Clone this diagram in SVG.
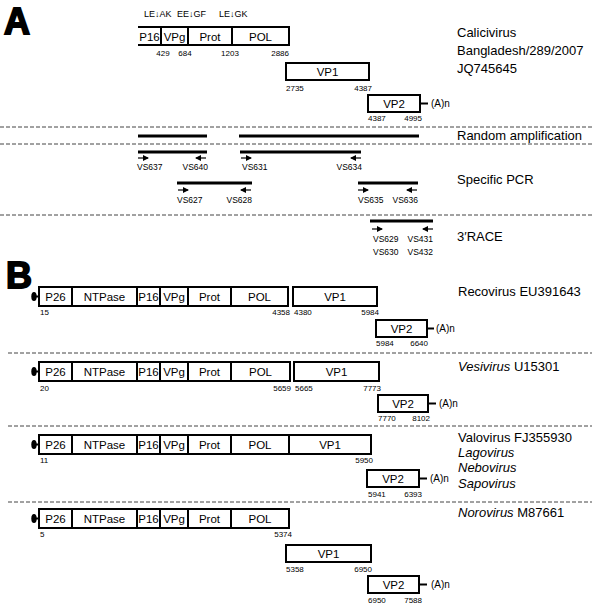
<svg xmlns="http://www.w3.org/2000/svg" width="600" height="613" viewBox="0 0 600 613">
<defs>
<style>
text{font-family:"Liberation Sans",Arial,sans-serif;fill:#000}
.box{fill:#fff;stroke:#000;stroke-width:2}
.dv{stroke:#000;stroke-width:2}
.lbl{font-size:11.5px;text-anchor:middle}
.num{font-size:8px}
.end{text-anchor:end}
.nm{font-size:13px}
.it{font-style:italic}
.an{font-size:10px}
.cl{font-size:9px}
.vs{font-size:8.5px}
.dash{stroke:#444;stroke-width:1;stroke-dasharray:4 2;fill:none}
.bar{stroke:#000;stroke-width:3}
.ar{stroke:#000;stroke-width:1.2;marker-end:url(#ah)}
.tail{stroke:#000;stroke-width:2}
.big{font-size:36px;font-weight:bold;stroke:#000;stroke-width:1.8}
</style>
<marker id="ah" markerWidth="6" markerHeight="6" refX="5" refY="3" orient="auto" markerUnits="userSpaceOnUse">
<path d="M0,0 L6,3 L0,6 Z" fill="#000"/>
</marker>
</defs>
<rect width="600" height="613" fill="#fff"/>

<g id="panel-labels">
<text class="big" x="4" y="34">A</text>
<text class="big" x="6" y="288">B</text>
</g>

<g id="separators">
<line class="dash" x1="0" y1="127" x2="592" y2="127"/>
<line class="dash" x1="0" y1="144" x2="592" y2="144"/>
<line class="dash" x1="0" y1="215" x2="592" y2="215"/>
<line class="dash" x1="8" y1="353" x2="592" y2="353"/>
<line class="dash" x1="8" y1="426" x2="592" y2="426"/>
<line class="dash" x1="8" y1="502" x2="592" y2="502"/>
</g>

<!-- Panel A -->
<g id="a-cleavage">
<text class="cl" x="144" y="17">LE↓AK</text>
<text class="cl" x="177" y="17">EE↓GF</text>
<text class="cl" x="219" y="17">LE↓GK</text>
</g>
<g id="a-orf1">
<path class="box" d="M138,27 H289 V45 H138"/>
<line class="dv" x1="161" y1="27" x2="161" y2="45"/>
<line class="dv" x1="188" y1="27" x2="188" y2="45"/>
<line class="dv" x1="232" y1="27" x2="232" y2="45"/>
<text class="lbl" x="149.5" y="41">P16</text>
<text class="lbl" x="174.5" y="41">VPg</text>
<text class="lbl" x="210" y="41">Prot</text>
<text class="lbl" x="260.5" y="41">POL</text>
<text class="num" x="163" y="56" text-anchor="middle">429</text>
<text class="num" x="185" y="56" text-anchor="middle">684</text>
<text class="num" x="230" y="56" text-anchor="middle">1203</text>
<text class="num end" x="289" y="56">2886</text>
</g>
<g id="a-vp1">
<rect class="box" x="286" y="63" width="83" height="17"/>
<text class="lbl" x="327.5" y="76">VP1</text>
<text class="num" x="286" y="91">2735</text>
<text class="num end" x="372" y="91">4387</text>
</g>
<g id="a-vp2">
<rect class="box" x="368" y="95" width="52" height="17"/>
<text class="lbl" x="394" y="108">VP2</text>
<text class="an" x="431" y="107">(A)n</text>
<text class="num" x="368" y="121">4387</text>
<text class="num end" x="422" y="121">4995</text>
</g>
<g id="a-name">
<text class="nm" x="457" y="37">Calicivirus</text>
<text class="nm" x="457" y="55">Bangladesh/289/2007</text>
<text class="nm" x="457" y="73">JQ745645</text>
</g>
<g id="random-amplification">
<line class="bar" x1="138" y1="136" x2="207" y2="136"/>
<line class="bar" x1="239" y1="136" x2="419" y2="136"/>
<text class="nm" x="457" y="140">Random amplification</text>
</g>
<g id="specific-pcr">
<line class="bar" x1="138" y1="152" x2="207" y2="152"/>
<line class="bar" x1="240" y1="152" x2="361" y2="152"/>
<line class="bar" x1="177" y1="183" x2="252" y2="183"/>
<line class="bar" x1="358" y1="183" x2="418" y2="183"/>
<text class="vs" x="137" y="170">VS637</text>
<text class="vs end" x="208" y="170">VS640</text>
<text class="vs" x="242" y="170">VS631</text>
<text class="vs end" x="362" y="170">VS634</text>
<text class="vs" x="177" y="203">VS627</text>
<text class="vs end" x="252" y="203">VS628</text>
<text class="vs" x="358" y="203">VS635</text>
<text class="vs end" x="418" y="203">VS636</text>
<text class="nm" x="457" y="184">Specific PCR</text>
</g>
<g id="race">
<line class="bar" x1="370" y1="221" x2="433" y2="221"/>
<text class="vs" x="373" y="242">VS629</text>
<text class="vs" x="373" y="255">VS630</text>
<text class="vs end" x="433" y="242">VS431</text>
<text class="vs end" x="433" y="255">VS432</text>
<text class="nm" x="457" y="241">3′RACE</text>
</g>

<!-- Panel B -->
<g id="recovirus">
<rect class="box" x="39" y="287" width="249" height="19"/>
<line class="dv" x1="72" y1="287" x2="72" y2="306"/>
<line class="dv" x1="137" y1="287" x2="137" y2="306"/>
<line class="dv" x1="160" y1="287" x2="160" y2="306"/>
<line class="dv" x1="188" y1="287" x2="188" y2="306"/>
<line class="dv" x1="231" y1="287" x2="231" y2="306"/>
<text class="lbl" x="55.5" y="301">P26</text>
<text class="lbl" x="104.5" y="301">NTPase</text>
<text class="lbl" x="148.5" y="301">P16</text>
<text class="lbl" x="174" y="301">VPg</text>
<text class="lbl" x="209.5" y="301">Prot</text>
<text class="lbl" x="259.5" y="301">POL</text>
<rect class="box" x="293" y="287" width="84" height="19"/>
<text class="lbl" x="335" y="301">VP1</text>
<text class="num" x="40" y="315">15</text>
<text class="num end" x="290" y="315">4358</text>
<text class="num" x="294" y="315">4380</text>
<text class="num end" x="379" y="315">5984</text>
<rect class="box" x="376" y="320" width="51" height="17"/>
<text class="lbl" x="401.5" y="333">VP2</text>
<text class="an" x="436" y="332">(A)n</text>
<text class="num" x="376" y="346">5984</text>
<text class="num end" x="428" y="346">6640</text>
<ellipse cx="34" cy="296.5" rx="2.7" ry="4.5" fill="#000"/>
<text class="nm" x="458" y="296">Recovirus EU391643</text>
</g>

<g id="vesivirus">
<rect class="box" x="39" y="362" width="251" height="19"/>
<line class="dv" x1="72" y1="362" x2="72" y2="381"/>
<line class="dv" x1="137" y1="362" x2="137" y2="381"/>
<line class="dv" x1="160" y1="362" x2="160" y2="381"/>
<line class="dv" x1="188" y1="362" x2="188" y2="381"/>
<line class="dv" x1="231" y1="362" x2="231" y2="381"/>
<text class="lbl" x="55.5" y="376">P26</text>
<text class="lbl" x="104.5" y="376">NTPase</text>
<text class="lbl" x="148.5" y="376">P16</text>
<text class="lbl" x="174" y="376">VPg</text>
<text class="lbl" x="209.5" y="376">Prot</text>
<text class="lbl" x="260.5" y="376">POL</text>
<rect class="box" x="294" y="362" width="85" height="19"/>
<text class="lbl" x="336.5" y="376">VP1</text>
<text class="num" x="40" y="391">20</text>
<text class="num end" x="291" y="391">5659</text>
<text class="num" x="295" y="391">5665</text>
<text class="num end" x="381" y="391">7773</text>
<rect class="box" x="378" y="395" width="50" height="17"/>
<text class="lbl" x="403" y="408">VP2</text>
<text class="an" x="439" y="407">(A)n</text>
<text class="num" x="378" y="421">7770</text>
<text class="num end" x="430" y="421">8102</text>
<ellipse cx="34" cy="371.5" rx="2.7" ry="4.5" fill="#000"/>
<text class="nm" x="458" y="371"><tspan class="it">Vesivirus</tspan> U15301</text>
</g>

<g id="valovirus">
<rect class="box" x="39" y="435" width="332" height="19"/>
<line class="dv" x1="72" y1="435" x2="72" y2="454"/>
<line class="dv" x1="137" y1="435" x2="137" y2="454"/>
<line class="dv" x1="160" y1="435" x2="160" y2="454"/>
<line class="dv" x1="188" y1="435" x2="188" y2="454"/>
<line class="dv" x1="231" y1="435" x2="231" y2="454"/>
<line class="dv" x1="289" y1="435" x2="289" y2="454"/>
<text class="lbl" x="55.5" y="449">P26</text>
<text class="lbl" x="104.5" y="449">NTPase</text>
<text class="lbl" x="148.5" y="449">P16</text>
<text class="lbl" x="174" y="449">VPg</text>
<text class="lbl" x="209.5" y="449">Prot</text>
<text class="lbl" x="260" y="449">POL</text>
<text class="lbl" x="330" y="449">VP1</text>
<text class="num" x="40" y="463">11</text>
<text class="num end" x="373" y="463">5950</text>
<rect class="box" x="367" y="470" width="52" height="17"/>
<text class="lbl" x="393" y="483">VP2</text>
<text class="an" x="430" y="482">(A)n</text>
<text class="num" x="368" y="497">5941</text>
<text class="num end" x="422" y="497">6393</text>
<ellipse cx="34" cy="444.5" rx="2.7" ry="4.5" fill="#000"/>
<text class="nm" x="458" y="442">Valovirus FJ355930</text>
<text class="nm it" x="458" y="457">Lagovirus</text>
<text class="nm it" x="458" y="472">Nebovirus</text>
<text class="nm it" x="458" y="488">Sapovirus</text>
</g>

<g id="norovirus">
<rect class="box" x="39" y="509" width="250" height="19"/>
<line class="dv" x1="72" y1="509" x2="72" y2="528"/>
<line class="dv" x1="137" y1="509" x2="137" y2="528"/>
<line class="dv" x1="160" y1="509" x2="160" y2="528"/>
<line class="dv" x1="188" y1="509" x2="188" y2="528"/>
<line class="dv" x1="231" y1="509" x2="231" y2="528"/>
<text class="lbl" x="55.5" y="523">P26</text>
<text class="lbl" x="104.5" y="523">NTPase</text>
<text class="lbl" x="148.5" y="523">P16</text>
<text class="lbl" x="174" y="523">VPg</text>
<text class="lbl" x="209.5" y="523">Prot</text>
<text class="lbl" x="260" y="523">POL</text>
<text class="num" x="40" y="537">5</text>
<text class="num end" x="292" y="537">5374</text>
<rect class="box" x="286" y="545" width="85" height="17"/>
<text class="lbl" x="328.5" y="558">VP1</text>
<text class="num" x="286" y="572">5358</text>
<text class="num end" x="372" y="572">6950</text>
<rect class="box" x="368" y="576" width="51" height="17"/>
<text class="lbl" x="393.5" y="589">VP2</text>
<text class="an" x="431" y="588">(A)n</text>
<text class="num" x="368" y="603">6950</text>
<text class="num end" x="422" y="603">7588</text>
<ellipse cx="34" cy="518.5" rx="2.7" ry="4.5" fill="#000"/>
<text class="nm" x="458" y="517"><tspan class="it">Norovirus</tspan> M87661</text>
</g>

<g id="connectors">
<line class="tail" x1="420" y1="103.5" x2="428" y2="103.5"/>
<line class="ar" x1="138" y1="158" x2="148" y2="158"/>
<line class="ar" x1="206" y1="158" x2="196" y2="158"/>
<line class="ar" x1="241" y1="158" x2="251" y2="158"/>
<line class="ar" x1="361" y1="158" x2="351" y2="158"/>
<line class="ar" x1="178" y1="190" x2="188" y2="190"/>
<line class="ar" x1="251" y1="190" x2="241" y2="190"/>
<line class="ar" x1="358" y1="190" x2="368" y2="190"/>
<line class="ar" x1="417" y1="190" x2="407" y2="190"/>
<line class="ar" x1="372" y1="229" x2="382" y2="229"/>
<line class="ar" x1="433" y1="229" x2="423" y2="229"/>
<line class="tail" x1="36" y1="296.5" x2="39" y2="296.5"/>
<line class="tail" x1="427" y1="328.5" x2="434" y2="328.5"/>
<line class="tail" x1="36" y1="371.5" x2="39" y2="371.5"/>
<line class="tail" x1="428" y1="403.5" x2="436" y2="403.5"/>
<line class="tail" x1="36" y1="444.5" x2="39" y2="444.5"/>
<line class="tail" x1="419" y1="478.5" x2="427" y2="478.5"/>
<line class="tail" x1="36" y1="518.5" x2="39" y2="518.5"/>
<line class="tail" x1="419" y1="584.5" x2="427" y2="584.5"/>
</g>
</svg>
